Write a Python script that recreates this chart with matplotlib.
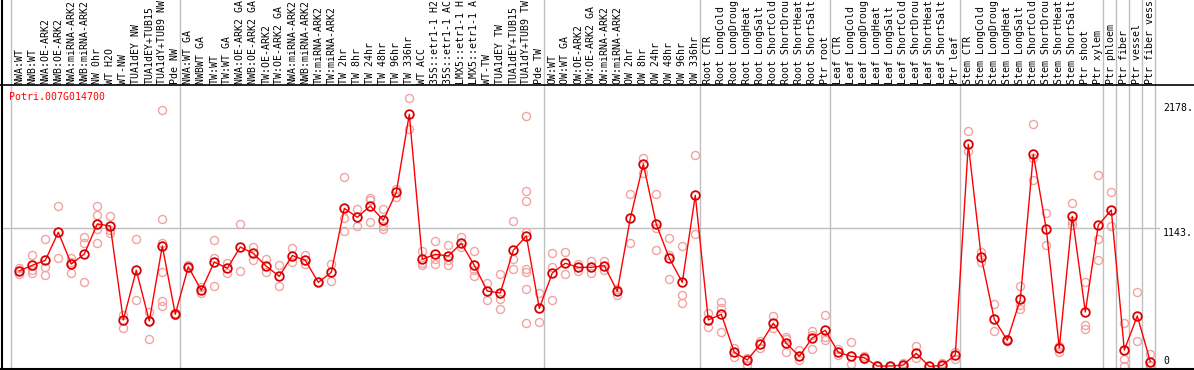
import matplotlib
matplotlib.use("Agg")
import matplotlib.pyplot as plt
from matplotlib.lines import Line2D
from matplotlib.transforms import blended_transform_factory

# ---------------- data ----------------
labels = [
    "NWA:WT", "NWB:WT", "NWA:OE-ARK2", "NWB:OE-ARK2", "NWA:miRNA-ARK2", "NWB:miRNA-ARK2",
    "NW 0hr", "WT H2O", "WT-NW", "TUA1dEY NW", "TUA1dEY+TUB15", "TUA1dY+TUB9 NW", "Pde NW",
    "NWA:WT GA", "NWBWT GA", "TW:WT", "TW:WT GA", "NWA:OE-ARK2 GA", "NWB:OE-ARK2 GA",
    "TW:OE-ARK2", "TW:OE-ARK2 GA", "NWA:miRNA-ARK2", "NWB:miRNA-ARK2", "TW:miRNA-ARK2",
    "TW:miRNA-ARK2", "TW 2hr", "TW 8hr", "TW 24hr", "TW 48hr", "TW 96hr", "TW 336hr",
    "WT ACC", "35S::etr1-1 H2", "35S::etr1-1 AC", "LMX5::etr1-1 H", "LMX5::etr1-1 A",
    "WT-TW", "TUA1dEY TW", "TUA1dEY+TUB15", "TUA1dY+TUB9 TW", "Pde TW",
    "OW:WT", "OW:WT GA", "OW:OE-ARK2", "OW:OE-ARK2 GA", "OW:miRNA-ARK2", "OW:miRNA-ARK2",
    "OW 2hr", "OW 8hr", "OW 24hr", "OW 48hr", "OW 96hr", "OW 336hr",
    "Root CTR", "Root LongCold", "Root LongDroug", "Root LongHeat", "Root LongSalt",
    "Root ShortCold", "Root ShortDrou", "Root ShortHeat", "Root ShortSalt", "Ptr root",
    "Leaf CTR", "Leaf LongCold", "Leaf LongDroug", "Leaf LongHeat", "Leaf LongSalt",
    "Leaf ShortCold", "Leaf ShortDrou", "Leaf ShortHeat", "Leaf ShortSalt", "Ptr leaf",
    "Stem CTR", "Stem LongCold", "Stem LongDroug", "Stem LongHeat", "Stem LongSalt",
    "Stem ShortCold", "Stem ShortDrou", "Stem ShortHeat", "Stem ShortSalt", "Ptr shoot",
    "Ptr xylem", "Ptr phloem", "Ptr fiber", "Ptr vessel", "Ptr fiber vess",
]

means = [
    790, 837, 878, 1110, 848, 930, 1179, 1162, 385, 796, 376, 997, 432,
    825, 630, 864, 812, 988, 936, 829, 746, 918, 878, 696, 779, 1308, 1234, 1328,
    1209, 1441, 2086, 887, 928, 914, 1019, 837, 624, 608, 961, 1079, 481,
    773, 854, 820, 820, 834, 622, 1226, 1675, 1176, 895, 696, 1416,
    385, 432, 117, 54, 184, 357, 192, 84, 236, 299,
    117, 84, 73, 4, 4, 12, 109, 0, 10, 95,
    1838, 903, 390, 217, 556, 1755, 1135, 153, 1242, 451, 1170,
    1294, 136, 418, 41,
]

replicates = [
    [812, 790, 765], [922, 798, 776], [1052, 825, 754], [1325, 895], [895, 867, 771],
    [1074, 1024, 696], [1325, 1251, 1135, 1024], [1242, 1129, 1102], [426, 316],
    [1052, 550], [453, 225, 376], [2119, 1217, 1024, 779, 544, 500], [440, 425],
    [840, 812], [655, 605], [1046, 895, 666], [859, 776], [1176, 787], [991, 878],
    [889, 779], [840, 666], [978, 867], [922, 847], [696], [848, 710],
    [1565, 1231, 1118], [1300, 1160], [1391, 1377, 1193], [1300, 1163, 1141],
    [1471, 1402], [2218, 1962], [953, 854, 840], [1036, 887, 850], [1005, 878, 842],
    [1071, 986], [953, 798, 746], [691, 548], [763, 561, 478], [1201, 887, 804],
    [2069, 1449, 1366, 1115, 804, 784, 639, 357], [610, 366],
    [936, 825, 548], [944, 763], [848, 790], [870, 771], [870, 798], [641, 594],
    [1424, 1024], [1722, 1598], [1424, 1143, 961], [1060, 922, 721], [994, 589, 523],
    [1747, 1093],
    [440, 329], [531, 481, 283], [151, 76], [73, 12], [213, 153], [415, 316],
    [246, 225, 117], [134, 54], [296, 263, 142], [423, 246, 219],
    [142, 95], [200, 18], [89, 60], [12, 0], [4, 0], [31, 0], [170, 73], [0, 0],
    [26, 0], [122, 60],
    [1945, 1785], [944, 864], [514, 294], [225, 210], [663, 509, 473],
    [2003, 1722, 1543], [1267, 1005], [170, 122], [1350, 1206, 1168],
    [696, 343, 308], [1584, 1052, 878],
    [1443, 1162], [357, 60, 0], [616, 211], [103, 10, 0],
]

group_starts = [0, 13, 41, 53, 63, 73, 84, 85, 86, 87, 88]
ytick_values = [2178, 1143, 0]
ytick_labels = ["2178.", "1143.", "0"]
gene_name = "Potri.007G014700"

# ---------------- figure ----------------
W, H = 1194, 370
fig = plt.figure(figsize=(W / 100, H / 100), dpi=100)
fig.patch.set_facecolor("white")

ax_left, ax_right, ax_top, ax_bottom = 2, 1160, 86, 369
ax = fig.add_axes([ax_left / W, (H - ax_bottom) / H,
                   (ax_right - ax_left) / W, (ax_bottom - ax_top) / H])
ax.set_facecolor("none")
for s in ax.spines.values():
    s.set_visible(False)
ax.set_xticks([])
ax.set_yticks([])

x0, dx = 19.3, 13.0
ax.set_xlim((ax_left - x0) / dx, (ax_right - x0) / dx)
ax.set_ylim(-20.7, 2320)

mono = "DejaVu Sans Mono"

# horizontal grid
ax.axhline(1143, color="#c0c0c0", lw=1, zorder=0)

# vertical group separators, through label area too
blend_fig = blended_transform_factory(ax.transData, fig.transFigure)
for g in group_starts:
    fig.add_artist(Line2D([g - 0.65, g - 0.65], [0, 1], transform=blend_fig,
                          color="#c0c0c0", lw=1, zorder=0))

# borders
fig.add_artist(Line2D([0, 1], [(H - 85) / H] * 2, transform=fig.transFigure, color="black", lw=1.2))
fig.add_artist(Line2D([0, 1], [(H - 369) / H] * 2, transform=fig.transFigure, color="black", lw=1.5))
fig.add_artist(Line2D([2 / W, 2 / W], [0, 1], transform=fig.transFigure, color="black", lw=1.5))

xs = list(range(len(labels)))

# replicates
for i, reps in enumerate(replicates):
    ax.plot([i] * len(reps), reps, linestyle="none", marker="o", markersize=5.8,
            markerfacecolor="none", markeredgecolor="#f2a4a4", markeredgewidth=1.0,
            clip_on=False, zorder=2)

# mean line and markers
ax.plot(xs, means, color="#ff0000", lw=1.0, zorder=3, clip_on=False)
ax.plot(xs, means, linestyle="none", marker="o", markersize=6.2,
        markerfacecolor="none", markeredgecolor="#d80000", markeredgewidth=1.3,
        zorder=4, clip_on=False)

# rotated sample labels
for i, lab in enumerate(labels):
    fig.text(i, (H - 83.5) / H, lab, transform=blend_fig, rotation=90,
             ha="center", va="bottom", fontsize=7.1, family=mono, color="black")

# y labels on the right
blend_ax = blended_transform_factory(ax.transAxes, ax.transData)
for v, t in zip(ytick_values, ytick_labels):
    ax.text(1 + 3 / (ax_right - ax_left), v, t, transform=blend_ax,
            ha="left", va="bottom" if v == 0 else "top", fontsize=7.1,
            family=mono, color="black", clip_on=False)

ax.text((9.3 - ax_left) / (ax_right - ax_left), 1 - 10.7 / (ax_bottom - ax_top), gene_name,
        transform=ax.transAxes, ha="left", va="center", fontsize=7.1, family=mono,
        color="#ff0000")

fig.savefig("out.png", dpi=100)
